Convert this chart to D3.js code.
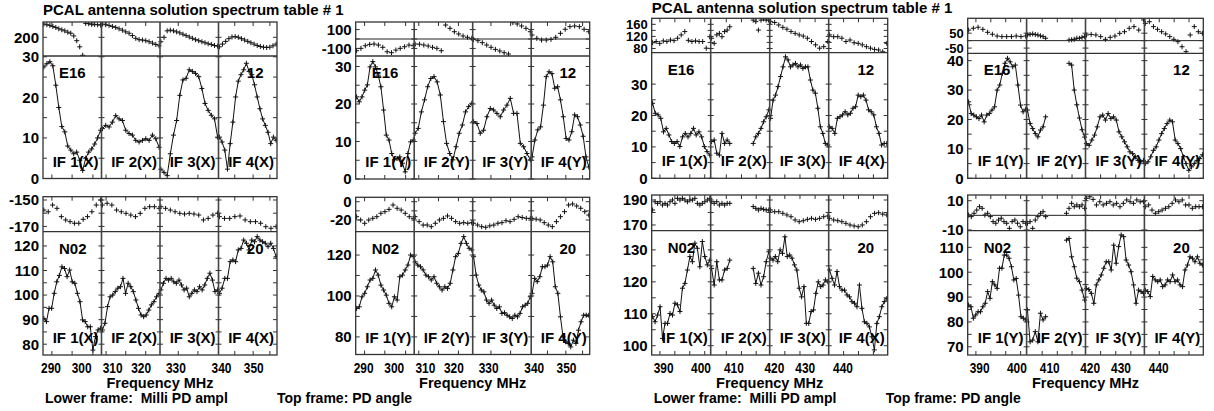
<!DOCTYPE html>
<html>
<head>
<meta charset="utf-8">
<script src="https://cdn.jsdelivr.net/npm/d3@7"></script>
<style>
  body { margin: 0; background: #fff; }
  svg text { font-family: "Liberation Sans", Arial, Helvetica, sans-serif; font-weight: bold; fill: #000; }
</style>
</head>
<body>
<svg id="chart" width="1214" height="411"></svg>
<script>
// ---- data ----
const titleText = "PCAL antenna solution spectrum table # 1";

// frequency span of each IF box (MHz), low and high band halves
const ifBandsLow = [[287.4, 306.5], [306.1, 326.6], [326.6, 339.1], [339.06, 357.2]];
const ifBandsHigh = [[386.8, 402.6], [404.5, 418.5], [418.5, 437.6], [437.6, 447.5]];
const freqLabelsLow = [290, 300, 310, 320, 330, 340, 350];
const freqLabelsHigh = [390, 400, 410, 420, 430, 440];
const freqTicksLow = [290.3, 296.9, 303.7, 307.7, 314.6, 321.6, 330.5, 334.7, 344.1, 349.8, 355.0];
const freqTicksHigh = [389, 393, 397, 401, 408.2, 411.8, 415.3, 423.4, 428.3, 433.2, 440.1, 442.6, 445.1];

// y-axis labels per panel
const phaseLabelsA = [200], ampLabelsA = [0, 10, 20, 30];
const phaseLabelsB = [-100, 100], ampLabelsB = [0, 10, 20, 30];
const phaseLabelsC = [80, 120, 160], ampLabelsC = [0, 10, 20, 30];
const phaseLabelsD = [-50, 50], ampLabelsD = [0, 10, 20, 30, 40];
const phaseLabelsE = [-170, -150], ampLabelsE = [80, 90, 100, 110, 120];
const phaseLabelsF = [-20, 0], ampLabelsF = [80, 100, 120];
const phaseLabelsG = [170, 190], ampLabelsG = [100, 110, 120, 130];
const phaseLabelsH = [-10, 10], ampLabelsH = [70, 80, 90, 100, 110];

// amplitude (milli) and phase (deg) per IF, channels in order
const ampA = [
  [27.5, 28.3, 28.8, 27.8, 23, 17.5, 12.8, 11.5, 8, 7, 6.1, 6.5, 4.5, 2, 5, 6.5, 7.3, 8.5, 10, 11.9],
  [12.3, 13.1, 12.7, 13.9, 15.5, 14.7, 14.3, 11.9, 11.1, 10.7, 9.4, 9.0, 9.4, 9.8, 9.4, 10.7, 9.8, 7.7],
  [2.3, 1.5, 0.7, 6.1, 10.7, 14.3, 20.5, 24.3, 24.7, 26.8, 26.4, 25.9, 25.1, 22.2, 18.5, 16.8, 15.6, 14.7, 10.2],
  [10.2, 9.0, 7.0, 2.3, 8.6, 13.9, 20.1, 24.0, 25.6, 26.8, 28.4, 26.4, 25.6, 23.1, 20.1, 17.2, 14.7, 13.1, 11.4, 8.6, 10.2, 9.4]
];
const phaseA = [
  [239, 237, 235, 232, 229, 225, 222, 219, 215, 212, 204, 190, 172, 147, 241, 240, 238, 238, 237, 236],
  [239, 237, 235, 232, 229, 225, 221, 216, 212, 205, 197, 193, 192, 190, 187, 183, 179, 175],
  [187, 200, 219, 221, 219, 216, 213, 209, 205, 201, 197, 193, 190, 187, 184, 181, 179, 176, 174],
  [172, 180, 188, 196, 201, 202, 200, 196, 192, 188, 184, 180, 176, 173, 171, 170, 171, 175, 180]
];
const ampB = [
  [21.9, 20.6, 21.9, 23.7, 25.1, 29.9, 31.3, 29.9, 27.7, 24.6, 18.4, 11.7, 10.4, 6.8, 5.1, 5.5, 5.9, 4.2, 1.9, 6.8, 9.9, 10.4],
  [12.2, 13.5, 17.9, 21.1, 24.6, 26.8, 27.3, 25.9, 22.4, 15.3, 9.5, 6.8, 5.1, 8.6, 12.2, 14.4, 17.9, 19.3, 20.2],
  [15.3, 14.8, 12.2, 13.0, 16.6, 18.8, 18.4, 17.5, 16.6, 18.4, 19.7, 21.5, 17.5, 17.5, 9.5, 8.6, 6.8, 5.1],
  [5.9, 10.4, 13.1, 13.9, 19.7, 27.3, 28.6, 28.1, 24.2, 24.6, 21.1, 16.6, 10.8, 10.4, 12.6, 17.1, 16.6, 14.4, 11.4, 5.9, 3.2]
];
const phaseB = [
  [-124, -99, -71, -57, -53, -64, -88, -135, -145, -117, -99, -82, -64, -71],
  [-53, -55, -64, -74, -88, -99, -124, 148, 113, 77, 53, 32, 18, 7],
  [-4, -18, -39, -64, -88, -110, -127, -145, -159, 173, 159, 138, 113, 77],
  [42, 7, -11, -11, -4, 18, 60, 103, 131, 138, 131, 103, 77]
];
const ampC = [
  [23.9, 20.7, 20.2, 19.1, 14.8, 15.9, 13.8, 11.7, 11.1, 11.7, 10.1, 13.2, 14.3, 13.2, 14.3, 15.9, 13.8, 14.8, 13.2, 10.1, 8.5, 7.4],
  [11.7, 12.2, 8.0, 7.4, 14.3, 11.1, 12.2, 11.1, null, null, null, null, null, null, null, null, 11.1, 13.2, 14.3, 15.9, 18.0, 19.6, 21.8],
  [19.1, 24.9, 26.5, 29.2, 32.4, 35.5, 38.7, 37.7, 35.5, 36.1, 36.6, 35.5, 36.1, 35.0, 35.5, 35.5, 31.3, 28.1, 27.1, 22.3, 16.4, 14.3, 11.1, 10.6],
  [16.4, 15.9, 14.3, 19.1, 19.6, 20.2, 21.2, 20.2, 20.7, 22.3, 22.8, 26.5, 26.0, 26.5, 24.9, 21.8, 21.2, 20.2, 16.4, 14.3, 10.6, 11.1, 11.1]
];
const phaseC = [
  [99, 103, 97, 105, 103, 108, 106, 114, 125, 136, 107, 103, 105, 103, 103, 81, 119],
  [114, 97, 125, 130, 119, 136, 141, 152, null, null, null, null, null, null, null, null, 174, 169, 141, 174, 178, 174, 174],
  [169, 166, 158, 150, 144, 136, 130, 125, 121, 114, 103, 92, 81, 86, 103],
  [125, 119, 119, 114, 103, 108, 99, 97, 92, 86, 81, 77, 75, 69, 97]
];
const ampD = [
  [26.0, 22.0, 21.5, 20.9, 20.3, 21.5, 19.2, 21.5, 22.0, 23.2, 24.3, 30.0, 31.7, 35.7, 39.1, 40.8, 39.6, 37.9, 38.5, 31.7, 24.9, 22.6, 23.5],
  [23.2, 18.6, 16.9, 15.2, 14.1, 16.4, 17.5, 20.9, null, null, null, null, null, null, null, null, 39.1, 38.5, 30.0, 25.0, 20.5, 16.5, 14.0],
  [11.8, 11.2, 13.0, 14.7, 17.5, 20.9, 21.5, 19.8, 22.0, 20.3, 20.9, 19.8, 15.8, 14.1, 12.4, 10.7, 9.0, 8.4, 7.3, 6.1, 5.6, 6.1],
  [5.0, 5.6, 7.3, 9.5, 10.7, 13.0, 15.2, 16.9, 18.6, 19.8, 19.2, 13.0, 11.8, 10.1, 7.3, 5.0, 2.7, 3.9, 5.0, 6.1, 6.7, 8.0]
];
const phaseD = [
  [71, 83, 90, 76, 56, 43, 31, 27, 27, 27, 31, 27, 31],
  [38, 42, 45, 41, 38, 32, 27, 16, null, null, null, null, null, null, null, null, 4, 6, 9, 16, 16, 22, 27],
  [38, 42, 38, 27, 9, 22, 31, 49, 60, 83, 94, 71, 139],
  [116, 127, 94, 76, 60, 45, 27, 9, -7, -41, -74, 38, 94, 60, 49]
];
const ampE = [
  [90.5, 89.2, 94.6, 94.6, 100.7, 105.4, 108.0, 111.5, 110.8, 107.5, 110.2, 105.4, 104.8, 100.7, 97.3, 89.9, 89.2, 87.1, 87.1, 77.6, 83.1, 85.8, 86.5],
  [85.8, 88.5, 95.3, 99.3, 100.0, 101.4, 102.8, 103.4, 106.8, 100.7, 104.8, 103.4, 101.4, 98.0, 94.6, 91.9, 91.2, 91.9, 93.9, 96.0, 97.3, 99.3, 100.7],
  [102.1, 104.8, 106.8, 106.1, 106.8, 105.4, 104.8, 106.1, 104.1, 102.1, 102.8, 99.3, 100.7, 102.1, 101.4, 103.4, 102.1, 104.1, 106.8, 108.9, 106.1, 101.4, 102.1],
  [100.7, 102.8, 106.8, 106.8, 113.6, 114.3, 113.6, 118.4, 119.0, 122.4, 121.1, 118.4, 122.4, 121.7, 123.8, 122.4, 121.7, 121.1, 119.7, 121.1, 119.0, 115.6]
];
const phaseE = [
  [-157.6, -158.9, -153.8, -156.3, -162.6, -165.1, -166.4, -167.6, -167.6, -164.6, -162.6, -158.9, -153.8, -150],
  [-153.8, -152.5, -153.8, -157.6, -158.9, -160.1, -161.4, -162.6, -160.1, -156.3, -155.1, -155.1, -156.3],
  [-155.1, -156.3, -157.6, -158.9, -160.1, -160.6, -160.1, -160.6, -161.4, -165.1, -163.9, -161.4, -160.1],
  [-162.6, -163.9, -163.9, -162.6, -162.1, -165.1, -166.4, -166.4, -167.6, -170.2, -171.4, -170.2]
];
const ampF = [
  [93.9, 94.7, 99.6, 101.3, 104.5, 107.8, 108.6, 112.7, 110.2, 105.3, 102.9, 100.4, 96.4, 94.7, 99.6, 98.0, 109.4, 110.2, 112.7, 115.1, 120.0, 119.2],
  [116.7, 115.1, 114.3, 112.7, 110.2, 109.4, 107.8, 109.4, 106.2, 104.5, 102.9, 104.5, 103.7, 106.2, 112.7, 119.2, 120.8, 125.7, 129.0, 125.7, 123.3, 122.5],
  [119.2, 110.2, 105.3, 102.9, 102.0, 98.0, 96.4, 98.0, 95.5, 93.9, 94.7, 91.5, 91.8, 90.6, 89.8, 89.0, 90.6, 89.8, 91.5, 94.7, 95.5, 96.4, 99.6],
  [101.3, 108.6, 107.0, 109.4, 114.3, 114.3, 115.1, 119.2, 116.7, 104.5, 101.3, 89.8, 80.0, 77.6, 76.8, 75.1, 78.4, 76.8, 83.3, 87.4, 90.6, 90.6, 90.6]
];
const phaseF = [
  [-16.4, -20.0, -23.6, -20.0, -18.2, -16.4, -12.7, -10.9, -8.4, -3.6, -7.2, -9.1, -12.7, -16.4, -18.2],
  [-16.4, -21.8, -25.5, -25.5, -27.3, -23.6, -20.0, -18.2, -15.6, -18.2, -21.8, -23.6, -22.9, -23.6, -22.9],
  [-23.6, -25.5, -27.3, -28.0, -26.4, -25.5, -23.6, -22.9, -20.8, -21.8, -19.3, -16.4, -17.3, -18.2, -18.2],
  [-18.2, -19.1, -20.0, -22.9, -25.5, -27.3, -21.8, -16.4, -10.9, -3.6, -2.5, -4.7, -7.2, -10.9, -14.6]
];
const ampG = [
  [109.1, 107.5, 109.6, 112.2, 102.3, 107.0, 107.0, 110.1, 109.6, 113.3, 112.8, 110.7, 118.0, 119.5, 123.7, 127.9, 126.3, 132.1, 130.5, 124.7, 132.6, 127.9, 125.3, 126.8],
  [124.2, 119.0, 126.3, 120.6, 120.6, 123.7, 124.2, 126.8, null, null, null, null, null, null, null, null, 124.2, 119.5, 122.7, 119.0, 121.6, 126.3, 129.4],
  [127.4, 126.8, 127.9, 126.3, 130.0, 128.9, 134.1, 127.9, 128.4, 127.4, 125.3, 123.7, 118.0, 115.3, 118.5, 107.0, 107.0, 110.7, 111.2, 116.4, 120.0, 118.5, 119.0, 120.6, 120.0],
  [123.7, 121.1, 119.0, 123.2, 118.5, 117.4, 117.4, 115.9, 115.3, 113.8, 113.3, 112.2, 119.0, 111.7, 107.5, 107.0, 105.9, 102.8, 98.7, 107.0, 109.1, 112.2, 113.8, 114.8]
];
const phaseG = [
  [182.0, 188.6, 187.3, 188.6, 186.0, 187.3, 186.0, 188.6, 190.0, 187.3, 191.3, 190.0, 191.3, 190.0, 188.6, 190.0, 190.0, 191.3, 187.3, 186.0, 187.3, 188.6, 190.0, 191.3],
  [188.6, 187.3, 188.6, 186.0, 187.3, 186.0, 187.3, 187.3, null, null, null, null, null, null, null, null, 184.7, 183.3, 182.0, 183.3, 182.5, 182.0, 182.0],
  [182.0, 180.6, 180.6, 179.3, 178.0, 176.6, 174.0, 172.6, 173.4, 174.5, 175.3, 174.5, 175.3, 176.6, 177.2],
  [175.3, 174.0, 173.4, 172.6, 171.3, 170.0, 169.2, 168.6, 170.0, 172.6, 176.6, 179.3, 179.8, 178.7, 178.0]
];
const ampH = [
  [86.8, 86.1, 81.5, 82.8, 84.1, 84.1, 86.1, 87.5, 92.2, 89.5, 96.2, 94.9, 93.5, 101.6, 101.6, 106.9, 106.9, 105.6, 102.2, 96.9, 97.5, 90.8, 82.1, 81.5, 80.8],
  [84.8, 72.0, 72.7, 76.1, 72.0, 83.5, 80.8, 82.1, null, null, null, null, null, null, null, 112.9, 113.6, 106.2, 102.2, 97.6, 96.2, 92.8, 88.8],
  [93.5, 93.0, 91.5, 87.5, 94.9, 96.9, 98.9, 101.6, 104.2, 104.2, 100.9, 110.9, 103.6, 110.3, 115.0, 114.3, 104.9, 102.9, 100.2, 94.9, 87.5, 92.8, 92.2, 91.5],
  [92.8, 92.2, 90.2, 98.3, 96.9, 96.2, 96.9, 94.2, 94.9, 96.9, 96.2, 98.9, 96.2, 96.9, 94.9, 94.2, 100.9, 102.9, 106.2, 105.6, 104.2, 106.2, 103.6, 102.9]
];
const phaseH = [
  [0.2, -0.9, 1.4, 3.6, 5.9, 4.8, 0.2, 1.4, -0.9, -4.3, -5.4, -3.2, -2.0, -4.3, -5.4, -8.9, -4.3, -3.2, -5.4, -7.8, -4.3, -5.4],
  [-5.4, -4.3, -8.9, -3.2, -0.9, 1.4, 2.5, -0.9, null, null, null, null, null, null, null, 1.4, 4.8, 8.2, 5.9, 7.1, 5.9, 7.1, 4.8],
  [11.6, 12.7, 10.9, 7.1, 9.3, 7.1, 8.2, 9.3, 7.1, 8.2, 5.9, 8.2, 10.5, 9.3, 8.2, 10.5, 9.3, 9.3],
  [5.9, 7.1, 3.6, 1.4, 2.5, 3.6, 4.8, 5.9, 8.2, 10.5, 9.3, 10.5, 7.1, 7.1, 4.8, 5.9, 5.9, 5.9]
];

// ---- layout table built from the arrays above ----
const panels = [
  { id: "A", left: 43, width: 234, top: 22, split: 56, bottom: 178.5, bands: ifBandsLow, pol: "X", stations: ["E16", "12"],
    phDom: [145, 245], amDom: [0, 30.2], phLab: phaseLabelsA, amLab: ampLabelsA, phase: phaseA, amp: ampA, zero: false, xAxis: false },
  { id: "B", left: 355.7, width: 234, top: 22, split: 56, bottom: 179, bands: ifBandsLow, pol: "Y", stations: ["E16", "12"],
    phDom: [-180, 180], amDom: [0, 32.8], phLab: phaseLabelsB, amLab: ampLabelsB, phase: phaseB, amp: ampB, zero: true, xAxis: false },
  { id: "C", left: 651.7, width: 236, top: 18.3, split: 52.7, bottom: 178.3, bands: ifBandsHigh, pol: "X", stations: ["E16", "12"],
    phDom: [66, 180], amDom: [0, 40], phLab: phaseLabelsC, amLab: ampLabelsC, phase: phaseC, amp: ampC, zero: false, xAxis: false, phFont: 13 },
  { id: "D", left: 967.7, width: 235.6, top: 18.3, split: 53.3, bottom: 178.3, bands: ifBandsHigh, pol: "Y", stations: ["E16", "12"],
    phDom: [-85, 150], amDom: [0, 42.5], phLab: phaseLabelsD, amLab: ampLabelsD, phase: phaseD, amp: ampD, zero: true, xAxis: false, phFont: 13 },
  { id: "E", left: 43, width: 234, top: 196.7, split: 231.7, bottom: 355, bands: ifBandsLow, pol: "X", stations: ["N02", "20"],
    phDom: [-174, -147.5], amDom: [75.6, 125.8], phLab: phaseLabelsE, amLab: ampLabelsE, phase: phaseE, amp: ampE, zero: false, xAxis: true, fLab: freqLabelsLow, fTick: freqTicksLow },
  { id: "F", left: 355.7, width: 234, top: 197.3, split: 231.7, bottom: 354.5, bands: ifBandsLow, pol: "Y", stations: ["N02", "20"],
    phDom: [-32.8, 4.8], amDom: [71.4, 131.4], phLab: phaseLabelsF, amLab: ampLabelsF, phase: phaseF, amp: ampF, zero: false, xAxis: true, fLab: freqLabelsLow, fTick: freqTicksLow },
  { id: "G", left: 651.7, width: 236, top: 195, split: 230.7, bottom: 355, bands: ifBandsHigh, pol: "X", stations: ["N02", "20"],
    phDom: [165.4, 194], amDom: [97.1, 136], phLab: phaseLabelsG, amLab: ampLabelsG, phase: phaseG, amp: ampG, zero: false, xAxis: true, fLab: freqLabelsHigh, fTick: freqTicksHigh },
  { id: "H", left: 967.7, width: 235.6, top: 195, split: 230.7, bottom: 355, bands: ifBandsHigh, pol: "Y", stations: ["N02", "20"],
    phDom: [-10.5, 13.9], amDom: [66.7, 116.7], phLab: phaseLabelsH, amLab: ampLabelsH, phase: phaseH, amp: ampH, zero: true, xAxis: true, fLab: freqLabelsHigh, fTick: freqTicksHigh }
];
panels.slice(0, 4).forEach((p, i) => { p.fTick = panels[i + 4].fTick; });

const svg = d3.select("#chart");
const defs = svg.append("defs");
const plus = "M-2.5,0H2.5M0,-2.5V2.5";
const frameColor = "#333";

// which IF box holds a frequency
const bandOf = (bands, f) => bands.findIndex(b => f >= b[0] && f <= b[1]);

// ticks halfway between labelled values too
const withMinor = labs => {
  const out = labs.slice();
  for (let i = 0; i < labs.length - 1; i++) out.push((labs[i] + labs[i + 1]) / 2);
  return out;
};

panels.forEach(p => {
  const g = svg.append("g").attr("class", "panel " + p.id);
  const right = p.left + p.width;
  const subW = p.width / 4;
  const xs = p.bands.map((b, k) => d3.scaleLinear().domain(b).range([p.left + k * subW, p.left + (k + 1) * subW]));
  const yP = d3.scaleLinear().domain(p.phDom).range([p.split, p.top]);
  const yA = d3.scaleLinear().domain(p.amDom).range([p.bottom, p.split]);

  defs.append("clipPath").attr("id", "clipP" + p.id).append("rect")
    .attr("x", p.left).attr("y", p.top).attr("width", p.width).attr("height", p.split - p.top);
  defs.append("clipPath").attr("id", "clipA" + p.id).append("rect")
    .attr("x", p.left).attr("y", p.split).attr("width", p.width).attr("height", p.bottom - p.split);

  // channel positions spread over each IF box
  const chans = (vals, k) => {
    const [f0, f1] = p.bands[k];
    const n = vals.length;
    return vals.map((v, j) => ({ f: f0 + (f1 - f0) * (0.015 + 0.97 * j / (n - 1)), v: v }));
  };

  // phase points
  const gP = g.append("g").attr("clip-path", "url(#clipP" + p.id + ")");
  p.phase.forEach((vals, k) => {
    gP.selectAll(null)
      .data(chans(vals, k).filter(d => d.v != null))
      .enter()
      .append("path")
      .attr("d", plus)
      .attr("transform", d => `translate(${xs[k](d.f)},${yP(d.v)})`)
      .attr("stroke", "#111")
      .attr("stroke-width", 1)
      .attr("fill", "none");
  });

  // amplitude line + points
  const gA = g.append("g").attr("clip-path", "url(#clipA" + p.id + ")");
  p.amp.forEach((vals, k) => {
    const d = chans(vals, k);
    gA.append("path")
      .datum(d)
      .attr("d", d3.line().defined(e => e.v != null).x(e => xs[k](e.f)).y(e => yA(e.v)))
      .attr("fill", "none")
      .attr("stroke", "#111")
      .attr("stroke-width", 1);
    gA.selectAll(null)
      .data(d.filter(e => e.v != null))
      .enter()
      .append("path")
      .attr("d", plus)
      .attr("transform", e => `translate(${xs[k](e.f)},${yA(e.v)})`)
      .attr("stroke", "#111")
      .attr("stroke-width", 1)
      .attr("fill", "none");
  });

  // frames
  g.append("rect")
    .attr("x", p.left).attr("y", p.top)
    .attr("width", p.width).attr("height", p.bottom - p.top)
    .attr("fill", "none").attr("stroke", frameColor).attr("stroke-width", 1.3);
  g.append("line")
    .attr("x1", p.left).attr("x2", right).attr("y1", p.split).attr("y2", p.split)
    .attr("stroke", frameColor).attr("stroke-width", 1.3);
  if (p.zero) {
    g.append("line")
      .attr("x1", p.left).attr("x2", right).attr("y1", yP(0)).attr("y2", yP(0))
      .attr("stroke", "#222").attr("stroke-width", 1);
  }
  const dividers = [1, 2, 3].map(k => p.left + k * subW);
  g.selectAll(".div")
    .data(dividers)
    .enter()
    .append("line")
    .attr("x1", d => d).attr("x2", d => d)
    .attr("y1", p.top).attr("y2", p.bottom)
    .attr("stroke", "#444").attr("stroke-width", 1.6);

  // y ticks on frame edges and IF dividers
  const yTick = (vals, scale) => {
    vals.forEach(v => {
      const y = scale(v);
      g.append("line").attr("x1", p.left).attr("x2", p.left + 4).attr("y1", y).attr("y2", y).attr("stroke", frameColor);
      g.append("line").attr("x1", right - 4).attr("x2", right).attr("y1", y).attr("y2", y).attr("stroke", frameColor);
      dividers.forEach(x => {
        g.append("line").attr("x1", x - 3).attr("x2", x + 3).attr("y1", y).attr("y2", y).attr("stroke", frameColor);
      });
    });
  };
  yTick(withMinor(p.phLab), yP);
  yTick(withMinor(p.amLab), yA);

  // y labels
  const yLab = (vals, scale, size) => {
    g.selectAll(null)
      .data(vals)
      .enter()
      .append("text")
      .attr("x", p.left - 4)
      .attr("y", d => scale(d))
      .attr("dy", "0.36em")
      .attr("text-anchor", "end")
      .attr("font-size", size)
      .text(d => d);
  };
  yLab(p.phLab, yP, p.phFont || 15);
  yLab(p.amLab, yA, 15);

  // x ticks on top and bottom edges
  p.fTick.forEach(f => {
    const k = bandOf(p.bands, f);
    if (k < 0) return;
    const x = xs[k](f);
    g.append("line").attr("x1", x).attr("x2", x).attr("y1", p.bottom).attr("y2", p.bottom - 4).attr("stroke", frameColor);
    g.append("line").attr("x1", x).attr("x2", x).attr("y1", p.top).attr("y2", p.top + 4).attr("stroke", frameColor);
  });

  // frequency labels under the lower panels (glyphs are narrow in the original)
  if (p.xAxis) {
    g.selectAll(null)
      .data(p.fLab)
      .enter()
      .append("text")
      .attr("transform", f => `translate(${xs[bandOf(p.bands, f)](f)},373) scale(0.85,1)`)
      .attr("text-anchor", "middle")
      .attr("font-size", 14)
      .text(f => f);
    g.append("text")
      .attr("x", p.left + p.width / 2)
      .attr("y", 388)
      .attr("text-anchor", "middle")
      .attr("font-size", 14.5)
      .text("Frequency MHz");
  }

  // station names
  g.append("text").attr("x", p.left + 16).attr("y", p.split + 22).attr("font-size", 15).text(p.stations[0]);
  g.append("text").attr("x", right - 13.5).attr("y", p.split + 22).attr("text-anchor", "end").attr("font-size", 15).text(p.stations[1]);

  // IF labels
  g.selectAll(null)
    .data([1, 2, 3, 4])
    .enter()
    .append("text")
    .attr("x", d => p.left + d * subW - 3)
    .attr("y", p.bottom - 12)
    .attr("text-anchor", "end")
    .attr("font-size", 15)
    .text(d => `IF ${d}(${p.pol})`);
});

// titles and footers for the two halves
const halves = [
  { x: 43, titleY: 15 },
  { x: 651.7, titleY: 13 }
];
halves.forEach(h => {
  svg.append("text").attr("x", h.x).attr("y", h.titleY).attr("font-size", 15).text(titleText);
  svg.append("text").attr("x", h.x + 2).attr("y", 402.5).attr("font-size", 14)
    .style("white-space", "pre").text("Lower frame:  Milli PD ampl");
  svg.append("text").attr("x", h.x + 234).attr("y", 402.5).attr("font-size", 14).text("Top frame: PD angle");
});
</script>
</body>
</html>
